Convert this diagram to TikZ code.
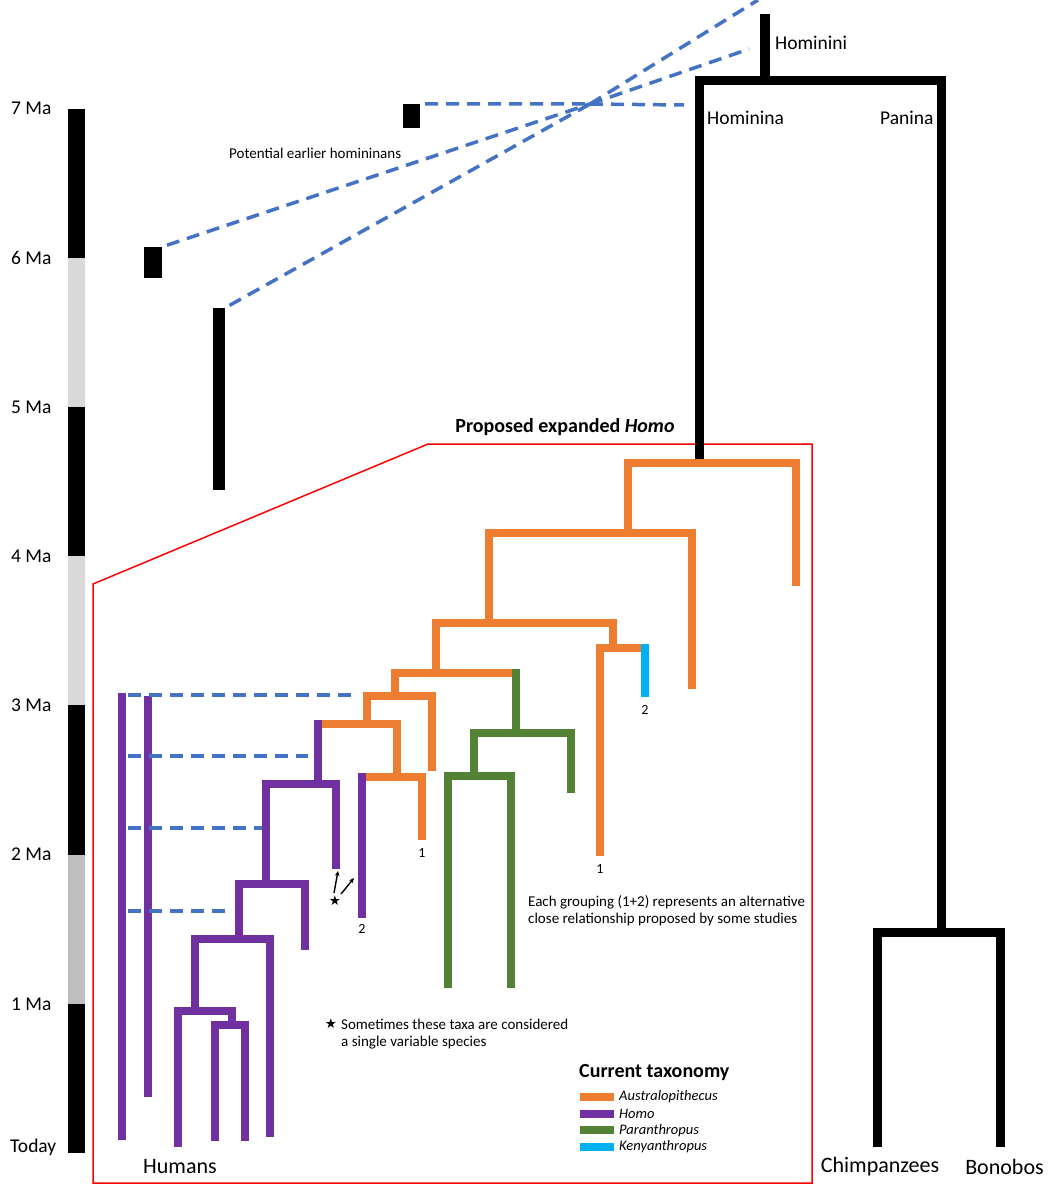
\documentclass[tikz,border=0pt]{standalone}
\usepackage{fontspec}
\setmainfont{Carlito}
\newfontfamily\symfont{DejaVu Sans}
\usetikzlibrary{arrows.meta}
\definecolor{ausorange}{HTML}{ED7D31}
\definecolor{homopurple}{HTML}{7030A0}
\definecolor{parangreen}{HTML}{548235}
\definecolor{kenyablue}{HTML}{00B0F0}
\definecolor{linkblue}{HTML}{4472C4}
\definecolor{barlight}{HTML}{D9D9D9}
\definecolor{bardark}{HTML}{BFBFBF}
\newcommand{\fsz}[2]{\fontsize{#1pt}{#2pt}\selectfont}
\begin{document}
\begin{tikzpicture}[x=1pt,y=-1pt,line join=miter,
    clade/.style={line width=8pt},
    stem/.style={line width=9pt},
    link/.style={linkblue,line width=3.5pt,dash pattern=on 13pt off 8pt},
    lbl/.style={inner sep=0pt,anchor=west},
    arr/.style={-{Stealth[length=5pt,width=4.5pt]},line width=1.4pt}]
  \useasboundingbox (0,0) rectangle (1056,1196);
  % time scale
  \foreach \t/\c in {7/black,6/barlight,5/black,4/barlight,3/black,2/bardark,1/black}
    \fill[\c] (68,{1153-149.2*\t}) rectangle (85,{1153-149.2*(\t-1)});
  \foreach \t in {1,...,7}
    \node[lbl,font=\fsz{19.5}{23}] (T\t) at (11,{1153-149.2*\t}) {\t\ Ma};
  \node[lbl,font=\fsz{19.5}{23}] (T0) at (10,1147) {Today};
  % expanded Homo frame
  \draw[red,line width=1.5pt] (93,584) -- (428,444) -- (812,444) -- (812,1183) -- (93,1183) -- cycle;
  \node[font=\bfseries\fsz{20}{24},inner sep=0pt] (expanded) at (565,427) {Proposed expanded \textit{Homo}};
  % earlier hominins
  \node[fill=black,inner sep=0pt,minimum width=18pt,minimum height=31pt] (F1) at (153,262.5) {};
  \node[fill=black,inner sep=0pt,minimum width=12pt,minimum height=182pt] (F2) at (219,399) {};
  \node[fill=black,inner sep=0pt,minimum width=17pt,minimum height=24pt] (F3) at (411.5,116) {};
  \node[lbl,font=\fsz{15}{18}] (earlier) at (229,153) {Potential earlier homininans};
  \coordinate (hub) at (590,104);
  \foreach \f in {F1,F2,F3}
    \draw[link,shorten <=5pt] (\f.north east) -- (hub);
  \foreach \p in {(684,105),(749,49),(758,0)}
    \draw[link] (hub) -- \p;
  % Hominini
  \draw[stem] (699,459) |- (941,81) -- (941,932);
  \draw[line width=10.5pt] (765,14) -- (765,81);
  \draw[stem] (877.5,1147) |- (1000,932) -- (1000,1147);
  \node[lbl,font=\fsz{19.5}{23}] (hominini) at (775,43) {Hominini};
  \node[lbl,font=\fsz{19.5}{23}] (hominina) at (707,118) {Hominina};
  \node[lbl,font=\fsz{19.5}{23}] (panina) at (880,118) {Panina};
  \node[font=\fsz{22}{26},inner sep=0pt] (chimps) at (880,1167) {Chimpanzees};
  \node[font=\fsz{22}{26},inner sep=0pt] (bonobos) at (1004.5,1167) {Bonobos};
  % Australopithecus
  \foreach \xa/\xb/\yc/\ya/\yb in {628/796/463/533/586,489/692/533/623/689,436/613/623/673/648,367/432/696/724/771}
    \draw[clade,ausorange] (\xa,\ya) |- (\xb,\yc) -- (\xb,\yb);
  \draw[clade,ausorange] (395,696) |- (512,673);
  \draw[clade,ausorange] (600,856) |- (641,648);
  \draw[clade,ausorange] (322,724) -| (397,777);
  \draw[clade,ausorange] (366,777) -| (422,840);
  % Paranthropus
  \draw[clade,parangreen] (515.5,669) -- (515.5,733);
  \foreach \xa/\xb/\yc/\ya/\yb in {474/571/733/776/793,448/511/776/988/988}
    \draw[clade,parangreen] (\xa,\ya) |- (\xb,\yc) -- (\xb,\yb);
  % Kenyanthropus
  \draw[clade,kenyablue] (645,644) -- (645,697);
  % Homo
  \foreach \xa/\xb/\yc/\ya/\yb in {266/336/784/883.5/869,239/305/883.5/939/950,195/270/939/1011/1137,178/232/1011/1147/1025,215/245/1025/1141/1141}
    \draw[clade,homopurple] (\xa,\ya) |- (\xb,\yc) -- (\xb,\yb);
  \foreach \x/\ya/\yb in {122/693/1140,148/696/1097,317.5/720/784,362/773/918}
    \draw[clade,homopurple] (\x,\ya) -- (\x,\yb);
  \foreach \y/\x in {695/358,756/308,828/262,911/228}
    \draw[link] (128,\y) -- (\x,\y);
  \node[font=\fsz{22}{26},inner sep=0pt] (humans) at (180,1167) {Humans};
  % groupings
  \foreach \x/\y/\n in {422/853/1,362/929/2,600/869/1,645/710/2}
    \node[font=\fsz{14}{16},inner sep=0pt] (n\x) at (\x,\y) {\n};
  \node[lbl,font=\fsz{15}{17.5},align=left] (grouping) at (528,910.5) {Each grouping (1+2) represents an alternative\\close relationship proposed by some studies};
  \node[font=\symfont\fsz{13.5}{15},inner sep=0pt] (star) at (335,901) {★};
  \coordinate (tipA) at (338,871);
  \coordinate (tipB) at (354,878);
  \draw[arr] (334,893) -- (tipA);
  \draw[arr] (341,894) -- (tipB);
  \node[font=\symfont\fsz{13.5}{15},inner sep=0pt] (star2) at (331,1024) {★};
  \node[lbl,font=\fsz{15}{17.5},align=left] (note) at (341,1034) {Sometimes these taxa are considered\\a single variable species};
  % legend
  \node[lbl,font=\bfseries\fsz{20}{24}] (legend) at (579,1073) {Current taxonomy};
  \foreach \c/\g [count=\i] in {ausorange/Australopithecus,homopurple/Homo,parangreen/Paranthropus,kenyablue/Kenyanthropus}{
    \fill[\c] (580,{1093+16.7*(\i-1)}) rectangle (614,{1101+16.7*(\i-1)});
    \node[lbl,font=\itshape\fsz{14.5}{17}] (L\i) at (619,{1097+16.7*(\i-1)}) {\g};
  }
\end{tikzpicture}
\end{document}
